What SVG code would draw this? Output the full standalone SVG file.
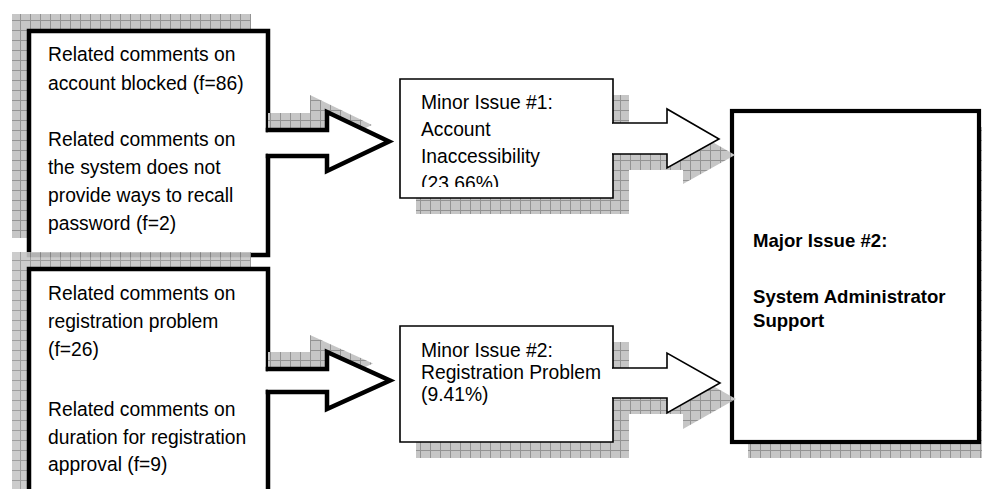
<svg xmlns="http://www.w3.org/2000/svg" width="982" height="489" viewBox="0 0 982 489">
<defs>
<pattern id="hatch" width="10" height="10" patternUnits="userSpaceOnUse">
<rect width="10" height="10" fill="#c6c6c6"/>
<path d="M0 0.5H10M0.5 0V10" stroke="#939393" stroke-width="1"/>
</pattern>
<clipPath id="clipM1"><rect x="400" y="79" width="213" height="108"/></clipPath>
<style>
.shadow{fill:url(#hatch);stroke:none}
.fill{fill:#fff;stroke:none}
.thick{fill:none;stroke:#000;stroke-width:4.5;stroke-linecap:square;stroke-linejoin:miter}
.thin{fill:none;stroke:#000;stroke-width:1.6;stroke-linecap:square;stroke-linejoin:miter}
.major{fill:#fff;stroke:#000;stroke-width:4.2}
text{font-family:"Liberation Sans",Arial,sans-serif;font-size:19.3px;fill:#000}
.bold{font-weight:bold;font-size:18.6px}
</style>
</defs>
<rect width="982" height="489" fill="#fff"/>

<g id="comments-account">
<rect class="shadow" x="12" y="14" width="239" height="224"/>
<rect class="fill" x="29" y="31" width="239" height="224"/>
<path class="thick" d="M268,130 V31 H29 V255 H268 V156"/>
<text x="48" y="61">Related comments on</text>
<text x="48" y="90">account blocked (f=86)</text>
<text x="48" y="146">Related comments on</text>
<text x="48" y="174">the system does not</text>
<text x="48" y="202">provide ways to recall</text>
<text x="48" y="230">password (f=2)</text>
</g>

<g id="comments-registration">
<rect class="shadow" x="12" y="252" width="239" height="240" opacity="0.9"/>
<rect class="fill" x="29" y="269" width="239" height="230"/>
<path class="thick" d="M268,369 V269 H29 V500 M268,500 V392"/>
<text x="48" y="300">Related comments on</text>
<text x="48" y="328">registration problem</text>
<text x="48" y="356">(f=26)</text>
<text x="48" y="416">Related comments on</text>
<text x="48" y="444">duration for registration</text>
<text x="48" y="471">approval (f=9)</text>
</g>

<g id="minor-issue-1">
<rect class="shadow" x="416" y="95" width="213" height="119"/>
<rect class="fill" x="400" y="79" width="213" height="119"/>
<path class="thin" d="M613,123 V79 H400 V198 H613 V154"/>
<g clip-path="url(#clipM1)">
<text x="421" y="109">Minor Issue #1:</text>
<text x="421" y="136">Account</text>
<text x="421" y="163">Inaccessibility</text>
<text x="421" y="190">(23.66%)</text>
</g>
</g>

<g id="minor-issue-2">
<rect class="shadow" x="416" y="342" width="213" height="116"/>
<rect class="fill" x="400" y="326" width="213" height="116"/>
<path class="thin" d="M613,368 V326 H400 V442 H613 V398"/>
<text x="421" y="357">Minor Issue #2:</text>
<text x="421" y="379">Registration Problem</text>
<text x="421" y="401">(9.41%)</text>
</g>

<g id="major-issue-2">
<rect class="shadow" x="748" y="127" width="247" height="331"/>
<rect class="major" x="732" y="111" width="247" height="331"/>
<text class="bold" x="753" y="247">Major Issue #2:</text>
<text class="bold" x="753" y="303">System Administrator</text>
<text class="bold" x="753" y="327">Support</text>
</g>

<g id="connectors">
<g id="arrow-account-to-minor1">
<polygon class="shadow" points="268,113 310,113 310,95 372,125 310,154 268,139"/>
<polygon class="fill" points="268,130 327,130 327,112 389,141.5 327,171 327,156 268,156"/>
<path class="thick" d="M268,130 H327 V112 L389,141.5 L327,171 V156 H268"/>
</g>
<g id="arrow-registration-to-minor2">
<polygon class="shadow" points="268,352 310,352 310,335 373,363.5 310,392 268,375"/>
<polygon class="fill" points="268,369 327,369 327,352 390,380.5 327,409 327,392 268,392"/>
<path class="thick" d="M268,369 H327 V352 L390,380.5 L327,409 V392 H268"/>
</g>
<g id="arrow-minor1-to-major">
<polygon class="shadow" points="629,139 683,139 683,125 735,155 683,184 683,170 629,170"/>
<polygon class="fill" points="613,123 667,123 667,109 719,139 667,168 667,154 613,154"/>
<path class="thin" d="M613,123 H667 V109 L719,139 L667,168 V154 H613"/>
</g>
<g id="arrow-minor2-to-major">
<polygon class="shadow" points="629,384 683,384 683,369 736,399 683,429 683,414 629,414"/>
<polygon class="fill" points="613,368 667,368 667,353 720,383 667,413 667,398 613,398"/>
<path class="thin" d="M613,368 H667 V353 L720,383 L667,413 V398 H613"/>
</g>
</g>
</svg>
